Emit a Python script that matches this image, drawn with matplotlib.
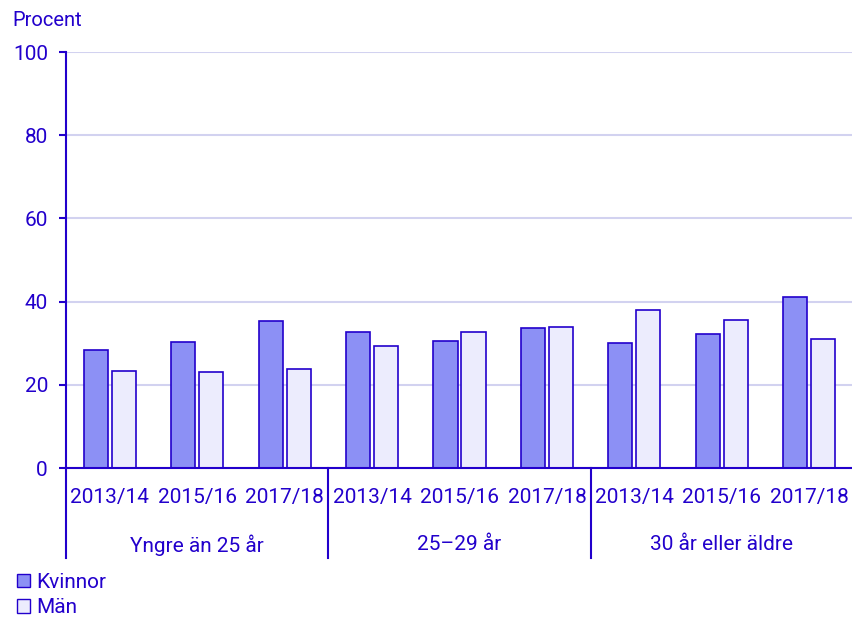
import matplotlib
matplotlib.use("Agg")
import matplotlib.pyplot as plt
from matplotlib.patches import Patch
import matplotlib.transforms as mtransforms
import numpy as np

plt.rcParams['font.family'] = ['Roboto', 'DejaVu Sans']

groups = ["Yngre än 25 år", "25\u201329 år", "30 år eller äldre"]
years = ["2013/14", "2015/16", "2017/18"]
kvinnor = [28.3, 30.4, 35.4, 32.7, 30.5, 33.7, 30.1, 32.1, 41.1]
man = [23.2, 23.1, 23.8, 29.4, 32.6, 34.0, 37.9, 35.5, 31.0]
yticks = [0, 20, 40, 60, 80, 100]

ink = "#2200cc"
fill_k = "#8c90f5"
fill_m = "#ececfd"
grid_c = "#d2d2f0"

fig = plt.figure(figsize=(8.53, 6.22), dpi=100)
ax = fig.add_axes([66 / 853, 1 - 468 / 622, 787 / 853, 416 / 622])

x = np.arange(len(kvinnor))
w = 0.275
off = 0.16
ax.bar(x - off, kvinnor, width=w, color=fill_k, edgecolor=ink, linewidth=1.2, zorder=3)
ax.bar(x + off, man, width=w, color=fill_m, edgecolor=ink, linewidth=1.2, zorder=3)

ax.set_xlim(-0.5, len(kvinnor) - 0.5)
ax.set_ylim(0, 100)
ax.set_yticks(yticks)
ax.set_yticklabels([str(v) for v in yticks], fontsize=15, color=ink)
ax.tick_params(axis='y', length=5, width=1.5, color=ink, pad=8)
ax.set_xticks([])
ax.grid(axis='y', color=grid_c, linewidth=1.5, zorder=0)
ax.set_axisbelow(True)

for s in ['top', 'right']:
    ax.spines[s].set_visible(False)
ax.spines['left'].set_color(ink)
ax.spines['left'].set_linewidth(1.5)
ax.spines['bottom'].set_color(ink)
ax.spines['bottom'].set_linewidth(1.5)
ax.spines['bottom'].set_zorder(4)

# Hierarchical category axis below the plot
trans = mtransforms.blended_transform_factory(ax.transData, ax.transAxes)
bottom = -90 / 416
for b in [-0.5, 2.5, 5.5]:
    ax.plot([b, b], [0, bottom], transform=trans, color=ink, linewidth=1.5,
            clip_on=False, zorder=5)

for i in range(len(kvinnor)):
    ax.text(i, -29 / 416, years[i % 3], transform=trans, ha='center', va='center',
            fontsize=15, color=ink)
for g, name in enumerate(groups):
    ax.text(g * 3 + 1, -77 / 416, name, transform=trans, ha='center', va='center',
            fontsize=15, color=ink)

fig.text(12 / 853, 1 - 20 / 622, "Procent", fontsize=14.5, color=ink,
         ha='left', va='center')

handles = [Patch(facecolor=fill_k, edgecolor=ink, linewidth=1.0),
           Patch(facecolor=fill_m, edgecolor=ink, linewidth=1.0)]
leg = fig.legend(handles, ["Kvinnor", "Män"], loc='upper left',
                 bbox_to_anchor=(17 / 853, 1 - 573 / 622), frameon=False,
                 fontsize=15, handlelength=0.6, handleheight=0.6,
                 handletextpad=0.3, labelspacing=0.3, borderpad=0.0,
                 borderaxespad=0.0)
for t in leg.get_texts():
    t.set_color(ink)

fig.savefig("out.png", dpi=100)
